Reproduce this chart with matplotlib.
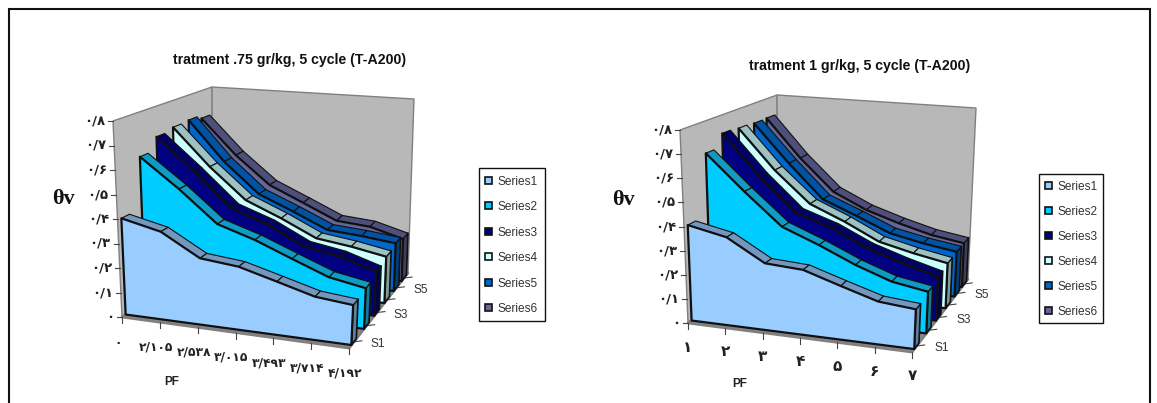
import numpy as np
import matplotlib
matplotlib.use("Agg")
import matplotlib.pyplot as plt
from matplotlib.patches import Polygon, Rectangle

# ---- data -------------------------------------------------------------
series_names = ["Series1", "Series2", "Series3", "Series4", "Series5", "Series6"]
depth_labels = ["S1", "", "S3", "", "S5", ""]
y_ticks = [0, .1, .2, .3, .4, .5, .6, .7, .8]
y_tick_labels = ["۰", "۰/۱", "۰/۲", "۰/۳", "۰/۴", "۰/۵", "۰/۶", "۰/۷", "۰/۸"]

left_title = "tratment .75 gr/kg, 5 cycle (T-A200)"
left_x_labels = ["۰", "۲/۱۰۵", "۲/۵۳۸", "۳/۰۱۵", "۳/۴۹۳", "۳/۷۱۴", "۴/۱۹۲"]
left_s1 = [.395, .359, .270, .255, .214, .173, .159]
left_s2 = [.612, .492, .362, .313, .252, .194, .167]
left_s3 = [.668, .531, .389, .334, .258, .232, .185]
left_s4 = [.681, .519, .386, .321, .249, .228, .200]
left_s5 = [.686, .509, .375, .310, .242, .229, .211]
left_s6 = [.671, .511, .385, .316, .247, .233, .191]

right_title = "tratment 1 gr/kg, 5 cycle (T-A200)"
right_x_labels = ["۱", "۲", "۳", "۴", "۵", "۶", "۷"]
right_s1 = [.398, .365, .275, .266, .218, .173, .160]
right_s2 = [.662, .513, .379, .318, .251, .198, .173]
right_s3 = [.719, .543, .400, .348, .277, .228, .187]
right_s4 = [.713, .538, .401, .336, .262, .226, .197]
right_s5 = [.708, .536, .384, .322, .257, .225, .201]
right_s6 = [.709, .533, .388, .316, .267, .226, .201]

# ---- styles -----------------------------------------------------------
face_colors = ["#99CCFF", "#00CCFF", "#000080", "#CCFFFF", "#0066CC", "#666699"]
top_colors = ["#7398C0", "#0E9CC4", "#000068", "#9CC2C4", "#0052A3", "#4F4F7C"]
side_colors = ["#5F7F9F", "#0A7E9E", "#000050", "#7E9E9E", "#003F7F", "#3D3D60"]
depth_fronts = [0.04, 0.255, 0.43, 0.60, 0.76, 0.89]
ribbon = 0.085
VMAX = 0.8
INK = "#101010"


class Box:
    """Oblique box: x in 0..1, depth in 0..1, value in 0..VMAX -> pixels."""
    def __init__(self, floor, top):
        self.floor = np.array(floor, float)
        self.top = np.array(top, float)

    @staticmethod
    def _blend(c, x, d):
        return (c[0] * (1 - x) * (1 - d) + c[1] * x * (1 - d) + c[2] * x * d + c[3] * (1 - x) * d)

    def __call__(self, x, d, v):
        f, t = self._blend(self.floor, x, d), self._blend(self.top, x, d)
        return tuple(f + (t - f) * (v / VMAX))


fig = plt.figure(figsize=(11.57, 4.03), dpi=100)
ax = fig.add_axes([0, 0, 1, 1])
ax.set_xlim(0, 1157)
ax.set_ylim(403, 0)
ax.axis("off")

# outer frame
ax.plot([8.5, 8.5, 1150, 1150], [403, 9, 9, 403], color="#111111", lw=1.5,
        solid_joinstyle="miter")


def poly(pts, fc, ec=INK, lw=1.2, z=2):
    ax.add_patch(Polygon(pts, closed=True, fc=fc, ec=ec, lw=lw, zorder=z,
                         joinstyle="round"))


def draw_chart(box, series, title, title_xy, x_labels, theta_xy, pf_xy, legend_box,
               xlab_dx, xlab_dy, ylab_dx, slab_off, xlab_size):
    # walls + floor
    wall = "#B8B8B8"
    edge = "#808080"
    poly([box(0, 0, 0), box(0, 0, VMAX), box(0, 1, VMAX), box(0, 1, 0)], wall, edge, 1.0, 1)
    poly([box(0, 1, 0), box(0, 1, VMAX), box(1, 1, VMAX), box(1, 1, 0)], wall, edge, 1.0, 1)
    poly([box(0, 0, 0), box(1, 0, 0), box(1, 1, 0), box(0, 1, 0)], "#8C8C8C", edge, 2.0, 1)

    # axis ticks and labels
    for v, lab in zip(y_ticks, y_tick_labels):
        p = box(0, 0, v)
        ax.plot([p[0] - 5, p[0]], [p[1], p[1]], color="#444444", lw=.8, zorder=1.5)
        ax.text(p[0] + ylab_dx, p[1], lab, ha="right", va="center", fontsize=9.5,
                fontweight="bold", family="DejaVu Sans", color="#222222")
    n = len(x_labels)
    for i, lab in enumerate(x_labels):
        p = box(i / (n - 1), 0, 0)
        ax.plot([p[0], p[0]], [p[1], p[1] + 6], color="#444444", lw=.8, zorder=1.5)
        ax.text(p[0] + xlab_dx, p[1] + xlab_dy, lab, ha="center", va="center", fontsize=xlab_size,
                fontweight="bold", family="DejaVu Sans", color="#222222")
    for d, lab in zip(depth_fronts, depth_labels):
        p = box(1, d + ribbon / 2, 0)
        ax.plot([p[0], p[0] + 8], [p[1], p[1] - 1], color="#444444", lw=.8, zorder=1.5)
        if lab:
            ax.text(p[0] + slab_off, p[1] + 2, lab, ha="center", va="center", fontsize=8.6,
                    family="Liberation Sans", color="#333333")

    # ribbons, back to front
    for s in range(len(series) - 1, -1, -1):
        vals = series[s]
        d0, d1 = depth_fronts[s], depth_fronts[s] + ribbon
        k = len(vals)
        xs = [i / (k - 1) for i in range(k)]
        z = 10 + (len(series) - s) * 2
        # right-hand end face
        poly([box(1, d0, 0), box(1, d1, 0), box(1, d1, vals[-1]), box(1, d0, vals[-1])],
             side_colors[s], INK, 1.2, z)
        # top strip
        for i in range(k - 1):
            poly([box(xs[i], d0, vals[i]), box(xs[i + 1], d0, vals[i + 1]),
                  box(xs[i + 1], d1, vals[i + 1]), box(xs[i], d1, vals[i])],
                 top_colors[s], INK, 0.8, z)
        # front face
        pts = [box(0, d0, 0)] + [box(x, d0, v) for x, v in zip(xs, vals)] + [box(1, d0, 0)]
        poly(pts, face_colors[s], INK, 1.6, z + 1)

    ax.text(title_xy[0], title_xy[1], title, ha="center", va="center", fontsize=10.2,
            fontweight="bold", family="Liberation Sans", color="#111111")
    ax.text(theta_xy[0], theta_xy[1], "θv", ha="center", va="center", fontsize=16,
            fontweight="bold", family="Liberation Serif", color="#111111")
    ax.text(pf_xy[0], pf_xy[1], "PF", ha="center", va="center", fontsize=8.5,
            family="Liberation Sans", fontweight="bold", color="#222222")

    # legend
    lx0, ly0, lx1, ly1 = legend_box
    ax.add_patch(Rectangle((lx0, ly0), lx1 - lx0, ly1 - ly0, fc="white", ec="#111111", lw=1.0, zorder=30))
    step = (ly1 - ly0) / len(series_names)
    for i, name in enumerate(series_names):
        cy = ly0 + step * (i + .5)
        ax.add_patch(Rectangle((lx0 + 6, cy - 4), 7, 7, fc=face_colors[i], ec="#111111", lw=1.2, zorder=31))
        ax.text(lx0 + 19, cy + 1, name, ha="left", va="center", fontsize=8.6,
                family="Liberation Sans", color="#333333", zorder=31)


left_box = Box([(122, 317), (349, 348), (408, 273), (213, 255)],
               [(113, 121), (358, 146), (414, 99), (212, 87)])
right_box = Box([(688, 323), (912, 352), (968, 279), (778, 262)],
                [(680, 130), (920, 152), (976, 108), (777, 95)])

draw_chart(left_box, [left_s1, left_s2, left_s3, left_s4, left_s5, left_s6], left_title,
           (290, 60), left_x_labels, (63, 199), (172, 382), (479, 168, 545, 321), -4, 25, -8, 24, 8.8)
draw_chart(right_box, [right_s1, right_s2, right_s3, right_s4, right_s5, right_s6], right_title,
           (860, 66), right_x_labels, (623, 200), (740, 384), (1039, 174, 1103, 323), 0, 24, -8, 25, 11)

fig.savefig("out.png", dpi=100)
